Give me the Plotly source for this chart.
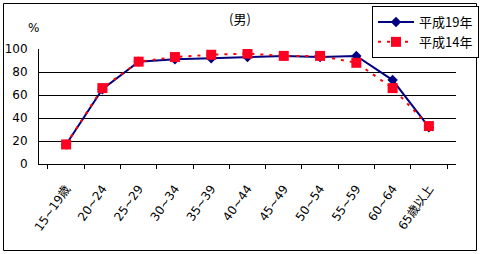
import plotly.graph_objects as go

categories = ["15~19歳", "20~24", "25~29", "30~34", "35~39", "40~44",
              "45~49", "50~54", "55~59", "60~64", "65歳以上"]
h19 = [17, 65, 89, 91, 92, 93, 94, 93, 94, 73, 32]
h14 = [17, 66, 89, 93, 95, 96, 94, 94, 88, 66, 33]
y_ticks = [0, 20, 40, 60, 80, 100]
grid_vals = [20, 40, 60, 80]

FONT = "Noto Sans CJK JP, DejaVu Sans, sans-serif"
TICKFONT = "DejaVu Sans, Noto Sans CJK JP, sans-serif"

fig = go.Figure()
fig.add_trace(go.Scatter(
    x=categories, y=h19, name="平成19年", mode="lines+markers",
    line=dict(color="#000080", width=2),
    marker=dict(symbol="diamond", size=8, color="#000080"),
))
fig.add_trace(go.Scatter(
    x=categories, y=h14, name="平成14年", mode="lines+markers",
    line=dict(color="#FF0000", width=2, dash="3px,6px"),
    marker=dict(symbol="square", size=10, color="#FF0022",
                line=dict(color="#FF00AA", width=0)),
))
# invisible trace carrying the gridline axis
fig.add_trace(go.Scatter(x=[categories[0]], y=[0], yaxis="y2", mode="markers",
                         marker=dict(opacity=0), showlegend=False, hoverinfo="skip"))

L, R, T, B = 39, 24, 49, 90
W, H = 480, 254
pw, ph = W - L - R, H - T - B

def px_x(px):
    return (px - L) / pw

def px_y(py):
    return (H - B - py) / ph

shapes = [dict(type="rect", xref="paper", yref="paper",
               x0=px_x(3.5), x1=px_x(476.5), y0=px_y(250.5), y1=px_y(3.5),
               line=dict(color="black", width=1))]

fig.update_layout(
    width=W, height=H,
    margin=dict(l=L, r=R, t=T, b=B, pad=0, autoexpand=False),
    paper_bgcolor="white", plot_bgcolor="white",
    font=dict(family=FONT, size=11, color="black"),
    showlegend=True,
    legend=dict(x=px_x(372), y=px_y(6), xanchor="left", yanchor="top",
                bordercolor="black", borderwidth=1, bgcolor="white",
                font=dict(size=13), tracegroupgap=0, itemwidth=36,
                traceorder="normal"),
    xaxis=dict(showline=True, linecolor="black", linewidth=1,
               ticks="outside", ticklen=4, tickcolor="black",
               tickson="boundaries", tickangle=-55, showgrid=False,
               ticklabelstandoff=12, tickfont=dict(family=TICKFONT, size=12),
               fixedrange=True),
    yaxis=dict(range=[0, 100], tickvals=y_ticks, showline=True,
               linecolor="black", linewidth=1, ticks="", showgrid=False,
               zeroline=False, ticklabelstandoff=8,
               tickfont=dict(family=TICKFONT, size=12), fixedrange=True),
    yaxis2=dict(range=[0, 100], tickvals=grid_vals, overlaying="y",
                showticklabels=False, ticks="", showgrid=True,
                gridcolor="black", gridwidth=1, zeroline=False,
                showline=False, fixedrange=True),
    shapes=shapes,
    annotations=[
        dict(text="(男)", xref="paper", yref="paper", x=px_x(240), y=px_y(19),
             xanchor="center", yanchor="middle",
             showarrow=False, font=dict(size=13)),
        dict(text="%", xref="paper", yref="paper", x=px_x(33), y=px_y(28),
             xanchor="center", yanchor="middle",
             showarrow=False, font=dict(family=TICKFONT, size=12)),
    ],
)

fig.write_html("out.html")
